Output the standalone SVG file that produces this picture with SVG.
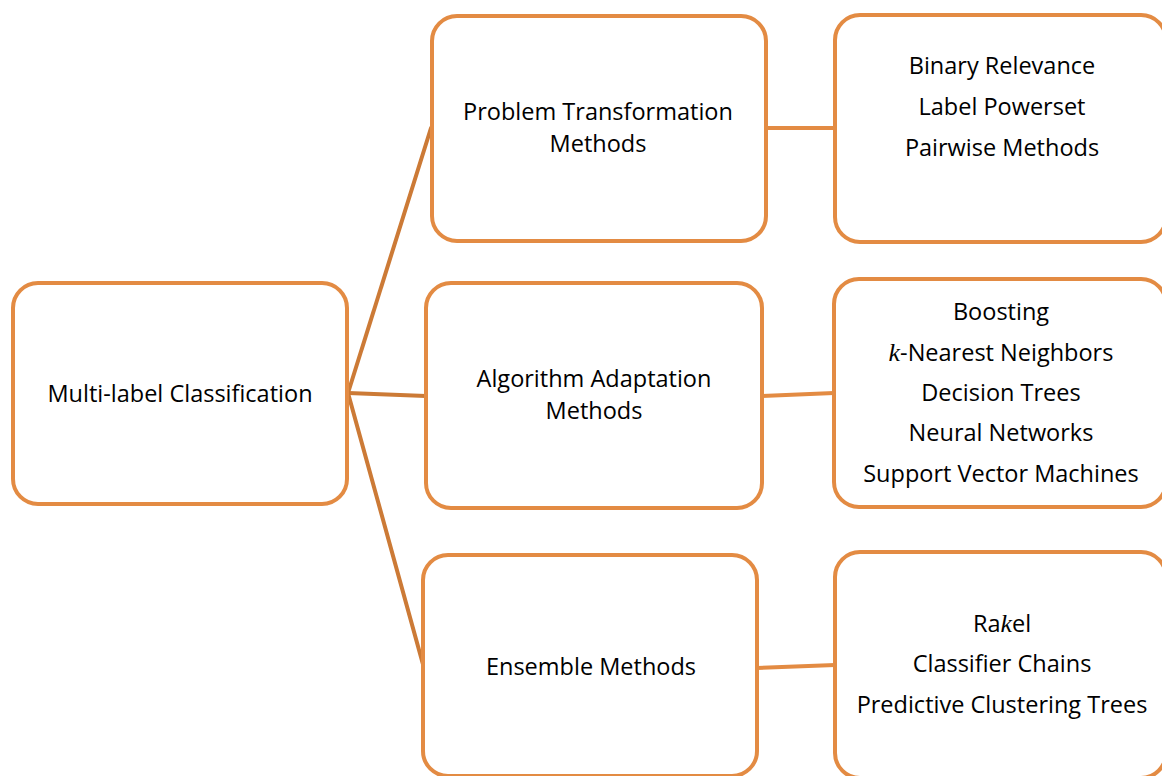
<svg xmlns="http://www.w3.org/2000/svg" width="1162" height="776" viewBox="0 0 1162 776">
  <style>
    .box { fill: #ffffff; stroke: #E38B43; stroke-width: 4; }
    .fan { stroke: #CC7A36; stroke-width: 4; fill: none; stroke-linecap: round; }
    .link { stroke: #E38B43; stroke-width: 4; fill: none; }
    text { font-family: "Open Sans", "Liberation Sans", sans-serif; font-size: 23.5px; fill: #000000; text-anchor: middle; }
    .mk { font-family: "Liberation Serif", "DejaVu Serif", serif; font-style: italic; font-size: 26px; }
  </style>
  <rect width="1162" height="776" fill="#ffffff"/>

  <!-- connectors -->
  <g id="connectors">
    <line class="fan" x1="348" y1="393" x2="431" y2="128"/>
    <line class="fan" x1="348" y1="393" x2="426" y2="396"/>
    <line class="fan" x1="348" y1="393" x2="424" y2="668"/>
    <line class="link" x1="766" y1="128" x2="835" y2="128"/>
    <line class="link" x1="762" y1="396" x2="834" y2="393"/>
    <line class="link" x1="757" y1="668" x2="835" y2="665"/>
  </g>

  <g id="root">
    <rect class="box" x="13" y="283" width="334" height="221" rx="25"/>
    <text x="180" y="402">Multi-label Classification</text>
  </g>

  <g id="problem-transformation">
    <rect class="box" x="432" y="16" width="334" height="225" rx="25"/>
    <text x="598" y="120">Problem Transformation</text>
    <text x="598" y="152">Methods</text>
  </g>

  <g id="algorithm-adaptation">
    <rect class="box" x="426" y="283" width="336" height="225" rx="25"/>
    <text x="594" y="387">Algorithm Adaptation</text>
    <text x="594" y="419">Methods</text>
  </g>

  <g id="ensemble">
    <rect class="box" x="423" y="555" width="334" height="221" rx="25"/>
    <text x="591" y="675">Ensemble Methods</text>
  </g>

  <g id="pt-list">
    <rect class="box" x="835" y="15" width="331" height="227" rx="25"/>
    <text x="1002" y="74">Binary Relevance</text>
    <text x="1002" y="115">Label Powerset</text>
    <text x="1002" y="156">Pairwise Methods</text>
  </g>

  <g id="aa-list">
    <rect class="box" x="834" y="279" width="332" height="228" rx="25"/>
    <text x="1001" y="320">Boosting</text>
    <text x="1001" y="361"><tspan class="mk">k</tspan>-Nearest Neighbors</text>
    <text x="1001" y="401">Decision Trees</text>
    <text x="1001" y="441">Neural Networks</text>
    <text x="1001" y="482">Support Vector Machines</text>
  </g>

  <g id="em-list">
    <rect class="box" x="835" y="552" width="331" height="226" rx="25"/>
    <text x="1002" y="632">Ra<tspan class="mk">k</tspan>el</text>
    <text x="1002" y="672">Classifier Chains</text>
    <text x="1002" y="713">Predictive Clustering Trees</text>
  </g>
</svg>
